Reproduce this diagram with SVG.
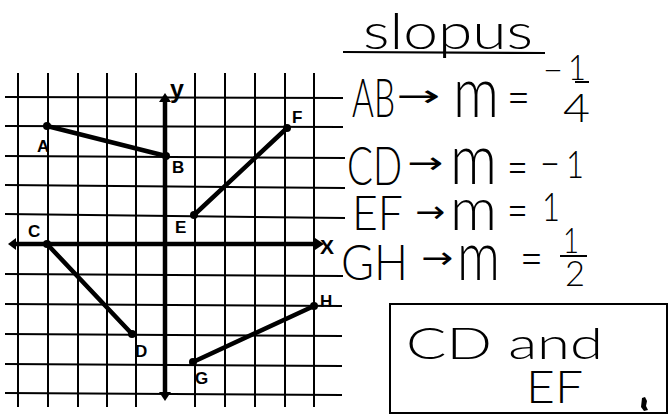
<svg xmlns="http://www.w3.org/2000/svg" width="671" height="415" viewBox="0 0 671 415">
<style>
.grid line{stroke:#000;stroke-width:2}
.axis{stroke:#000;stroke-width:4.5}
.seg{stroke:#000;stroke-width:4.5;stroke-linecap:round}
.pt{fill:#000}
.lbl{font-family:"Liberation Sans",Arial,sans-serif;font-weight:bold;font-size:17px;fill:#000}
.hw{font-family:"Lato","Open Sans","DejaVu Sans",sans-serif;font-weight:300;fill:#000}
.ar{font-family:"DejaVu Sans",sans-serif;font-weight:normal;fill:#000}
</style>
<rect width="671" height="415" fill="#fff"/>
<g id="grid" class="grid">
<line x1="18" y1="73" x2="18" y2="407"/>
<line x1="48" y1="73" x2="48" y2="407"/>
<line x1="78" y1="73" x2="78" y2="407"/>
<line x1="107" y1="73" x2="107" y2="407"/>
<line x1="136" y1="73" x2="136" y2="407"/>
<line x1="195" y1="73" x2="195" y2="407"/>
<line x1="225" y1="73" x2="225" y2="407"/>
<line x1="255" y1="73" x2="255" y2="407"/>
<line x1="285" y1="73" x2="285" y2="407"/>
<line x1="314" y1="73" x2="314" y2="407"/>
<line x1="5" y1="97" x2="343" y2="98"/>
<line x1="5" y1="126" x2="343" y2="127"/>
<line x1="5" y1="156" x2="345" y2="158"/>
<line x1="5" y1="185" x2="345" y2="188"/>
<line x1="5" y1="214" x2="345" y2="218"/>
<line x1="5" y1="274" x2="343" y2="276"/>
<line x1="5" y1="304" x2="342" y2="306"/>
<line x1="5" y1="334" x2="342" y2="336"/>
<line x1="5" y1="364" x2="342" y2="366"/>
<line x1="5" y1="393" x2="342" y2="395"/>
</g>
<g id="axes">
<line class="axis" x1="165" y1="100" x2="165" y2="395"/>
<line class="axis" x1="14" y1="244" x2="318" y2="244"/>
<path class="pt" d="M165 93 L171 102 L159 102 Z"/>
<path class="pt" d="M165 401 L171 392 L159 392 Z"/>
<path class="pt" d="M8 244 L16 238 L16 250 Z"/>
<path class="pt" d="M324 244 L315 238 L315 250 Z"/>
<text class="lbl" x="170" y="98" style="font-size:25px">y</text>
<text class="lbl" x="320" y="254" style="font-size:21px">X</text>
</g>
<g id="connectors">
<line id="AB" class="seg" x1="47" y1="126" x2="166" y2="156"/>
<line id="CD" class="seg" x1="47" y1="244" x2="132" y2="334"/>
<line id="EF" class="seg" x1="194" y1="215" x2="287" y2="128"/>
<line id="GH" class="seg" x1="193" y1="362" x2="314" y2="306"/>
</g>
<g id="A"><circle class="pt" cx="47" cy="126" r="4"/><text class="lbl" x="37" y="152">A</text></g>
<g id="B"><circle class="pt" cx="166" cy="156" r="4"/><text class="lbl" x="172" y="173">B</text></g>
<g id="C"><circle class="pt" cx="47" cy="244" r="4"/><text class="lbl" x="28" y="237">C</text></g>
<g id="D"><circle class="pt" cx="132" cy="334" r="4"/><text class="lbl" x="135" y="357">D</text></g>
<g id="E"><circle class="pt" cx="194" cy="215" r="4"/><text class="lbl" x="175" y="233">E</text></g>
<g id="F"><circle class="pt" cx="287" cy="128" r="4"/><text class="lbl" x="292" y="123">F</text></g>
<g id="G"><circle class="pt" cx="193" cy="362" r="4"/><text class="lbl" x="195" y="384">G</text></g>
<g id="H"><circle class="pt" cx="314" cy="306" r="4"/><text class="lbl" x="320" y="307">H</text></g>
<g id="slopes">
<text class="hw" x="363" y="49" font-size="50" textLength="170" lengthAdjust="spacingAndGlyphs">slopus</text>
<line x1="343" y1="52" x2="545" y2="53" stroke="#000" stroke-width="2.2"/>
<text class="hw" x="352" y="117" font-size="54" textLength="43" lengthAdjust="spacingAndGlyphs">AB</text>
<text class="ar" x="396" y="106" font-size="30" textLength="44" lengthAdjust="spacingAndGlyphs">→</text>
<text class="hw" x="453" y="117" font-size="70" textLength="46" lengthAdjust="spacingAndGlyphs">m</text>
<text class="hw" x="507" y="115" font-size="52" textLength="23" lengthAdjust="spacingAndGlyphs">=</text>
<text class="hw" x="543" y="84" font-size="40" textLength="20" lengthAdjust="spacingAndGlyphs">−</text>
<text class="hw" x="568" y="80" font-size="36" textLength="18" lengthAdjust="spacingAndGlyphs">1</text>
<line x1="575" y1="82" x2="589" y2="82" stroke="#000" stroke-width="2"/>
<text class="hw" x="563" y="122" font-size="40" textLength="27" lengthAdjust="spacingAndGlyphs">4</text>
<text class="hw" x="347" y="185" font-size="53" textLength="55" lengthAdjust="spacingAndGlyphs">CD</text>
<text class="ar" x="407" y="173" font-size="30" textLength="36" lengthAdjust="spacingAndGlyphs">→</text>
<text class="hw" x="450" y="184" font-size="70" textLength="47" lengthAdjust="spacingAndGlyphs">m</text>
<text class="hw" x="507" y="185" font-size="52" textLength="21" lengthAdjust="spacingAndGlyphs">=</text>
<text class="hw" x="540" y="180" font-size="48" textLength="20" lengthAdjust="spacingAndGlyphs">−</text>
<text class="hw" x="566" y="178" font-size="38" textLength="18" lengthAdjust="spacingAndGlyphs">1</text>
<text class="hw" x="352" y="230" font-size="47" textLength="51" lengthAdjust="spacingAndGlyphs">EF</text>
<text class="ar" x="415" y="222" font-size="30" textLength="30" lengthAdjust="spacingAndGlyphs">→</text>
<text class="hw" x="450" y="230" font-size="60" textLength="47" lengthAdjust="spacingAndGlyphs">m</text>
<text class="hw" x="507" y="228" font-size="52" textLength="21" lengthAdjust="spacingAndGlyphs">=</text>
<text class="hw" x="542" y="221" font-size="40" textLength="18" lengthAdjust="spacingAndGlyphs">1</text>
<text class="hw" x="341" y="280" font-size="50" textLength="67" lengthAdjust="spacingAndGlyphs">GH</text>
<text class="ar" x="421" y="268" font-size="30" textLength="32" lengthAdjust="spacingAndGlyphs">→</text>
<text class="hw" x="457" y="280" font-size="68" textLength="43" lengthAdjust="spacingAndGlyphs">m</text>
<text class="hw" x="520" y="276" font-size="52" textLength="23" lengthAdjust="spacingAndGlyphs">=</text>
<text class="hw" x="563" y="253" font-size="36" textLength="16" lengthAdjust="spacingAndGlyphs">1</text>
<line x1="560" y1="256" x2="587" y2="256" stroke="#000" stroke-width="2"/>
<text class="hw" x="565" y="286" font-size="36" textLength="20" lengthAdjust="spacingAndGlyphs">2</text>
</g>
<g id="answer">
<rect x="390" y="304" width="277" height="109" fill="none" stroke="#000" stroke-width="2"/>
<text class="hw" x="406" y="359" font-size="44" textLength="197" lengthAdjust="spacingAndGlyphs">CD and</text>
<text class="hw" x="526" y="403" font-size="45" textLength="57" lengthAdjust="spacingAndGlyphs">EF</text>
<path d="M642 398 l3 -1 l2 4 l-1 5 l2 4 l-4 1 l-3 -4 z" fill="#000"/>
</g>
</svg>
